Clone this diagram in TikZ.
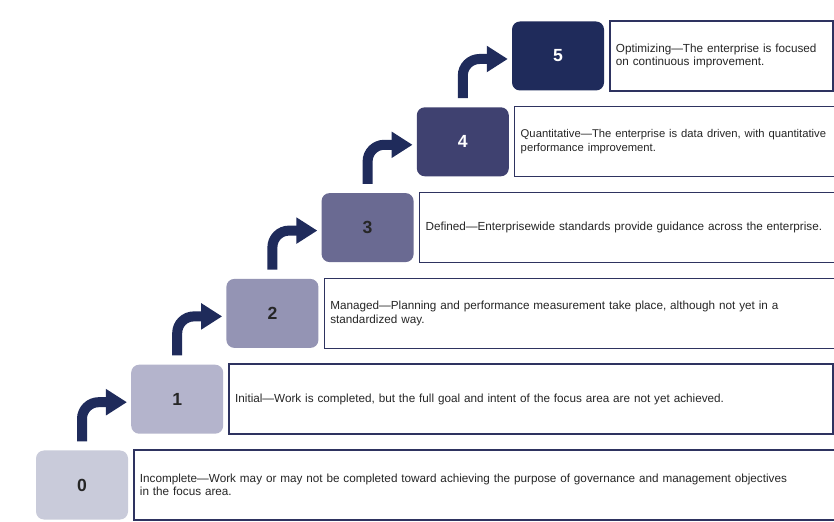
\documentclass[tikz,border=0pt]{standalone}
\usepackage{fontspec}
\setmainfont{Liberation Sans}
\usetikzlibrary{arrows.meta,positioning}
\definecolor{lvlzero}{HTML}{C9CBDA}
\definecolor{lvlone}{HTML}{B4B4CC}
\definecolor{lvltwo}{HTML}{9494B4}
\definecolor{lvlthree}{HTML}{6A6A92}
\definecolor{lvlfour}{HTML}{3F4170}
\definecolor{lvlfive}{HTML}{1F2B5B}
\definecolor{cmnavy}{HTML}{1F2B5B}
\definecolor{cmframe}{HTML}{2E3360}

\begin{document}
\begin{tikzpicture}[x=0.3mm,y=0.3mm,
  lvl/.style={rounded corners=2.4mm,minimum width=27.6mm,minimum height=20.7mm,
    font=\fontsize{15}{15}\selectfont\bfseries,inner sep=0pt},
  desc/.style={draw=cmframe,line width=1.2pt,minimum height=21mm,align=left,
    font=\fontsize{10}{11.5}\selectfont,text=black!85,inner sep=1.8mm},
  up/.style={-{Triangle[width=7.5mm,length=6.3mm]},line width=3mm,cmnavy,rounded corners=5mm}]
  \clip (0,0) rectangle (834,521);
  \fill[white] (0,0) rectangle (834,521);
  % the six levels, one step up and right each
  \foreach \i/\col/\ink/\r/\txt in {
      0/lvlzero/black!85/838/{Incomplete—Work may or may not be completed toward achieving the purpose of governance and management objectives\\in the focus area.},
      1/lvlone/black!85/832/{Initial—Work is completed, but the full goal and intent of the focus area are not yet achieved.},
      2/lvltwo/black!85/838/{Managed—Planning and performance measurement take place, although not yet in a\\standardized way.},
      3/lvlthree/black!85/838/{Defined—Enterprisewide standards provide guidance across the enterprise.},
      4/lvlfour/white/840/{\fontsize{9.6}{11.5}\selectfont Quantitative—The enterprise is data driven, with quantitative\\performance improvement.},
      5/lvlfive/white/832/{Optimizing—The enterprise is focused\\on continuous improvement.}} {
    \node[lvl,fill=\col,text=\ink] (n\i) at (82+95.2*\i,36+85.8*\i) {\i};
    \pgfmathsetmacro\w{(\r-133-95.2*\i)*0.3-3.6}
    \node[desc,text width=\w mm,right=1.5mm of n\i] (d\i) {\txt};
  }
  % bent arrows from one level to the next
  \foreach \i [count=\j from 0] in {1,...,5}
    \draw[up] ([yshift=2.7mm]n\j.north) |- ([xshift=-1.2mm,yshift=-0.9mm]n\i.west);
\end{tikzpicture}
\end{document}
